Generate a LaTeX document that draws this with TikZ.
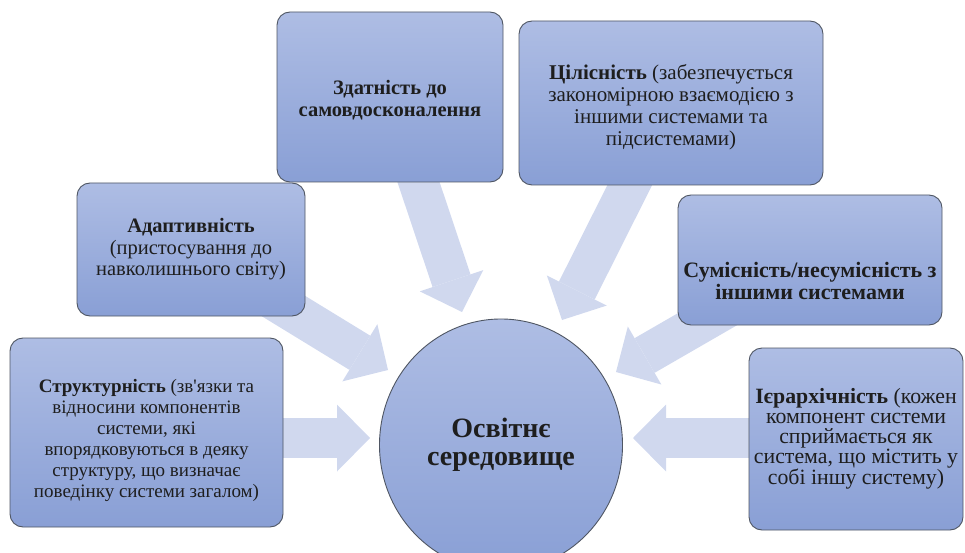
\documentclass[tikz,border=0pt]{standalone}
\usepackage{fontspec}
\setmainfont{Liberation Serif}
\usetikzlibrary{arrows.meta,backgrounds,shapes.geometric}
\definecolor{boxtop}{HTML}{AEBDE4}
\definecolor{boxbot}{HTML}{899FD5}
\definecolor{boxline}{HTML}{4F5663}
\definecolor{arrowcol}{HTML}{D0D8EE}
\definecolor{txt}{HTML}{1E1E1E}
% invisible strut on the first line: pushes the text block down inside its box
\newcommand\topgap[1]{\rule{0pt}{#1}}
\newcommand\fsz[2]{\fontsize{#1}{#2}\selectfont}
\begin{document}
\begin{tikzpicture}[x=1pt,y=-1pt,
  card/.style={draw=boxline, line width=0.9pt, rounded corners=13pt,
    top color=boxtop, bottom color=boxbot, align=center, text=txt, inner sep=0pt},
  hub/.style={ellipse, draw=boxline, line width=0.9pt, top color=boxtop,
    bottom color=boxbot, align=center, text=txt,
    font=\bfseries\fsz{28}{28}, minimum width=243pt, minimum height=252pt, inner sep=0pt},
  fat/.style={draw=arrowcol, line width=40pt,
    -{Triangle[length=33pt,width=67pt,line width=0pt]}}
]
\clip (0,0) rectangle (965,553);

\node[card, font=\fsz{19}{21}, minimum width=273pt, minimum height=189pt] (b1) at (146.5,432.5)
  {\topgap{29pt}\textbf{Структурність} (зв\textquotesingle язки та\\
   відносини компонентів\\системи, які\\впорядковуються в деяку\\
   структуру, що визначає\\поведінку системи загалом)};
\node[card, font=\fsz{20.5}{21.5}, minimum width=228pt, minimum height=133pt] (b2) at (191,249.5)
  {\textbf{Адаптивність}\\(пристосування до\\навколишнього світу)};
\node[card, font=\bfseries\fsz{20.5}{21.7}, minimum width=226pt, minimum height=170pt] (b3) at (390,97)
  {\topgap{20pt}Здатність до\\самовдосконалення};
\node[card, font=\fsz{21}{22}, minimum width=304pt, minimum height=164pt] (b4) at (671,103)
  {\topgap{22.5pt}\textbf{Цілісність} (забезпечується\\закономірною взаємодією з\\
   іншими системами та\\підсистемами)};
\node[card, font=\bfseries\fsz{22}{22.3}, minimum width=264pt, minimum height=130pt] (b5) at (810,260)
  {\topgap{57pt}Сумісність/несумісність з\\іншими системами};
\node[card, font=\fsz{21.8}{20}, minimum width=214pt, minimum height=182pt] (b6) at (856,439)
  {\textbf{Ієрархічність} (кожен\\компонент системи\\
   сприймається як\\система, що містить у\\собі іншу систему)};

\node[hub] (hub) at (501,445) {Освітнє\\середовище};

\coordinate (t1) at (370,438);
\coordinate (t2) at (388,370);
\coordinate (t3) at (462,312);
\coordinate (t4) at (562,320);
\coordinate (t5) at (616,372);
\coordinate (t6) at (633,438);

\begin{scope}[on background layer]
  \draw[fat] (b1.center |- t1) -- (t1);
  \draw[fat] (b2.center) -- (t2);
  \draw[fat] (b3.center) -- (t3);
  \draw[fat] (b4.center) -- (t4);
  \draw[fat] (b5.center) -- (t5);
  \draw[fat] (b6.center |- t6) -- (t6);
\end{scope}
\end{tikzpicture}
\end{document}
